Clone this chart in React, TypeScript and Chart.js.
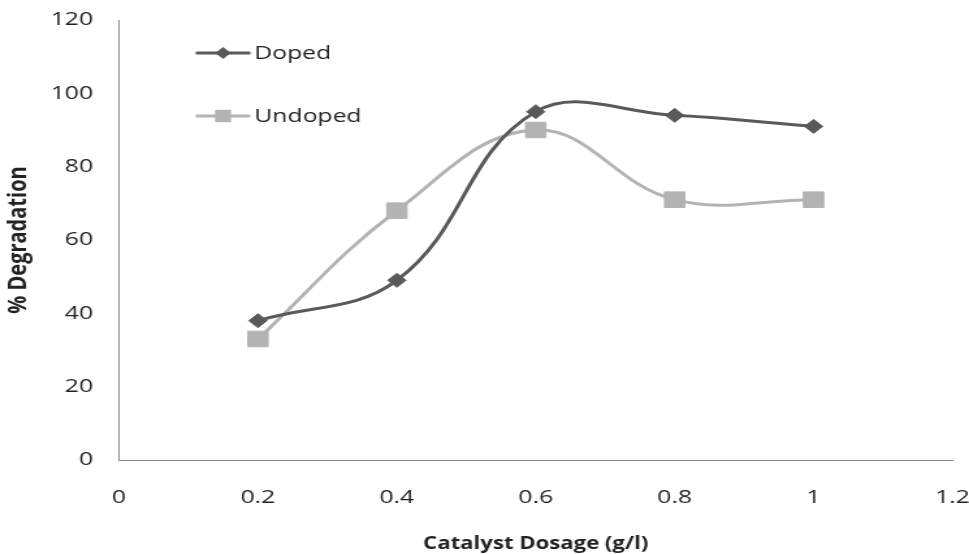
import React, { useEffect, useRef } from 'react';
import { Chart, registerables } from 'chart.js';

Chart.register(...registerables);

// Catalyst dosage (g/l) and % degradation for both catalysts
const dosage = [0.2, 0.4, 0.6, 0.8, 1.0];
const dopedDegradation = [38, 49, 95, 94, 91];
const undopedDegradation = [33, 68, 90, 71, 71];

const xTickValues = [0, 0.2, 0.4, 0.6, 0.8, 1, 1.2];
const yTickValues = [0, 20, 40, 60, 80, 100, 120];

const seriesNames = ['Doped', 'Undoped'];
const seriesColors = ['#595959', '#b3b3b3'];

// The bitmap is drawn narrower and widened by CSS, giving the stretched look
const BITMAP_W = 745;
const BITMAP_H = 554;
const SHOWN_W = 969;

const FONT = '"Open Sans", "DejaVu Sans", sans-serif';
const TEXT_COLOR = '#222222';
const AXIS_COLOR = '#878787';

function markerPath(ctx: CanvasRenderingContext2D, style: string, r: number, x: number, y: number) {
  ctx.beginPath();
  if (style === 'rectRot') {
    ctx.moveTo(x, y - r);
    ctx.lineTo(x + r, y);
    ctx.lineTo(x, y + r);
    ctx.lineTo(x - r, y);
  } else {
    const h = r * Math.SQRT1_2;
    ctx.rect(x - h, y - h, 2 * h, 2 * h);
  }
  ctx.closePath();
}

// Legend drawn inside the plot area, top-left, one row per series
const insetLegend = {
  id: 'insetLegend',
  afterDatasetsDraw(chart: any) {
    const { ctx, chartArea } = chart;
    const rows = [chartArea.top + 33, chartArea.top + 96];
    const lineStart = chartArea.left + 59;
    const lineEnd = chartArea.left + 101;
    chart.data.datasets.forEach((ds: any, i: number) => {
      const y = rows[i];
      ctx.save();
      ctx.strokeStyle = ds.borderColor;
      ctx.lineWidth = 3;
      ctx.beginPath();
      ctx.moveTo(lineStart, y);
      ctx.lineTo(lineEnd, y);
      ctx.stroke();
      markerPath(ctx, ds.pointStyle, i === 0 ? 6 : 8.7, (lineStart + lineEnd) / 2, y);
      ctx.fillStyle = ds.borderColor;
      ctx.fill();
      ctx.fillStyle = TEXT_COLOR;
      ctx.font = `19px ${FONT}`;
      ctx.textAlign = 'left';
      ctx.textBaseline = 'middle';
      ctx.fillText(ds.label, lineEnd + 3, y + 1);
      ctx.restore();
    });
  },
};

// Keep tick-label overhang from shrinking the plot area; layout padding decides it
const clearScalePadding = (s: any) => {
  s.paddingTop = 0;
  s.paddingBottom = 0;
  s.paddingLeft = 0;
  s.paddingRight = 0;
};

export default function App() {
  const canvasRef = useRef<HTMLCanvasElement | null>(null);

  useEffect(() => {
    const canvas = canvasRef.current;
    if (!canvas) return;

    const chart = new Chart(canvas, {
      type: 'line',
      data: {
        datasets: [
          {
            label: seriesNames[0],
            data: dosage.map((x, i) => ({ x, y: dopedDegradation[i] })),
            borderColor: seriesColors[0],
            backgroundColor: seriesColors[0],
            pointBackgroundColor: seriesColors[0],
            pointBorderColor: seriesColors[0],
            pointStyle: 'rectRot',
            pointRadius: 7,
            pointBorderWidth: 1,
            borderWidth: 3,
            tension: 0.4,
            fill: false,
          },
          {
            label: seriesNames[1],
            data: dosage.map((x, i) => ({ x, y: undopedDegradation[i] })),
            borderColor: seriesColors[1],
            backgroundColor: seriesColors[1],
            pointBackgroundColor: seriesColors[1],
            pointBorderColor: seriesColors[1],
            pointStyle: 'rect',
            pointRadius: 11,
            pointBorderWidth: 1,
            borderWidth: 3,
            tension: 0.4,
            fill: false,
          },
        ],
      },
      options: {
        responsive: false,
        animation: false,
        devicePixelRatio: 1,
        layout: { padding: { top: 20, right: 12.7, left: 0, bottom: 0 } },
        plugins: {
          legend: { display: false },
          tooltip: { enabled: false },
        },
        scales: {
          x: {
            type: 'linear',
            min: 0,
            max: 1.2,
            afterBuildTicks: (s: any) => {
              s.ticks = xTickValues.map((value) => ({ value }));
            },
            afterFit: (s: any) => {
              s.height = 94;
              clearScalePadding(s);
            },
            grid: { display: false, drawTicks: false },
            border: { display: true, color: AXIS_COLOR, width: 1 },
            ticks: {
              padding: 26,
              color: TEXT_COLOR,
              font: { family: FONT, size: 19 },
              maxRotation: 0,
              callback: (v: any) => String(Math.round(Number(v) * 10) / 10),
            },
            title: {
              display: true,
              text: 'Catalyst Dosage (g/l)',
              color: TEXT_COLOR,
              font: { family: FONT, size: 17, weight: 'bold' },
              padding: { top: 3, bottom: 0 },
            },
          },
          y: {
            type: 'linear',
            min: 0,
            max: 120,
            afterBuildTicks: (s: any) => {
              s.ticks = yTickValues.map((value) => ({ value }));
            },
            afterFit: (s: any) => {
              s.width = 91.5;
              clearScalePadding(s);
            },
            grid: { display: false, drawTicks: false },
            border: { display: true, color: AXIS_COLOR, width: 1 },
            ticks: {
              padding: 20,
              color: TEXT_COLOR,
              font: { family: FONT, size: 19 },
            },
            title: {
              display: true,
              text: '% Degradation',
              color: TEXT_COLOR,
              font: { family: FONT, size: 20, weight: 'bold' },
              padding: { top: 2, bottom: 0 },
            },
          },
        },
      },
      plugins: [insetLegend],
    });

    return () => {
      chart.destroy();
    };
  }, []);

  return (
    <div style={{ position: 'fixed', left: 0, top: 0, width: SHOWN_W, height: BITMAP_H, background: '#ffffff' }}>
      <canvas
        ref={canvasRef}
        width={BITMAP_W}
        height={BITMAP_H}
        style={{ display: 'block', width: `${SHOWN_W}px`, height: `${BITMAP_H}px` }}
      />
    </div>
  );
}
